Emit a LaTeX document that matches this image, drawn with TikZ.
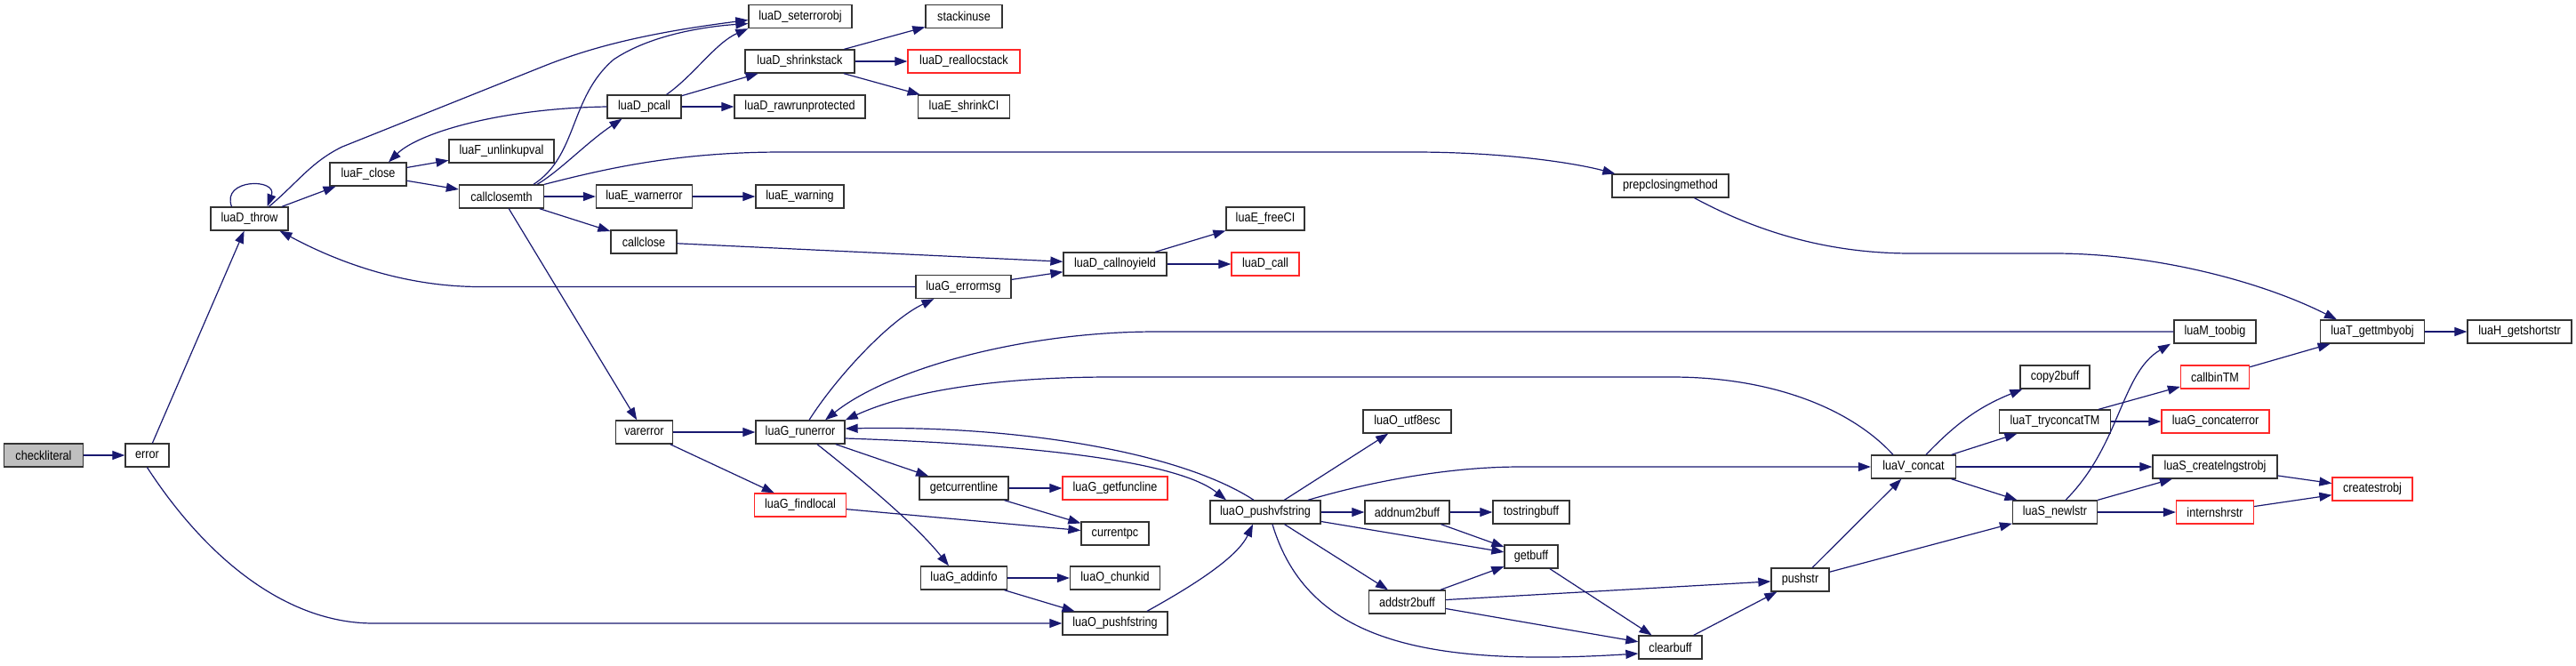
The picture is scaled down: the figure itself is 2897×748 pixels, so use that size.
\documentclass[tikz,border=0pt]{standalone}
\usepackage{fontspec}
\setmainfont{Liberation Sans}[FakeStretch=0.87]
\usepackage{tikz}
\usetikzlibrary{arrows.meta}
\definecolor{edgeblue}{RGB}{25,25,112}
\definecolor{boxred}{RGB}{255,40,40}

\begin{document}
\begin{tikzpicture}[
        x=1pt, y=-1pt,
        fn/.style={rectangle, draw=black!80, line width=1.3pt, fill=white, minimum height=26pt, inner sep=0pt, font=\fontsize{14.5}{16}\selectfont},
        fnext/.style={fn, draw=boxred},
        fnroot/.style={fn, fill=black!25},
        callarrow/.style={-{Triangle[length=14pt,width=10pt]}, line width=1.2pt, draw=edgeblue}
    ]
    \useasboundingbox (0,0) rectangle (2897,748);
    \node[fnroot, minimum width=89pt] (checkliteral) at (49,512) {checkliteral};
    \node[fn, minimum width=49pt] (error) at (165.5,512) {error};
    \node[fn, minimum width=87pt] (luaDthrow) at (280.5,246) {luaD\_throw};
    \node[fn, minimum width=86pt] (luaFclose) at (414,196) {luaF\_close};
    \node[fn, minimum width=118pt] (luaFunlinkupval) at (564,170) {luaF\_unlinkupval};
    \node[fn, minimum width=95pt] (callclosemth) at (564,221) {callclosemth};
    \node[fn, minimum width=116pt] (luaDseterrorobj) at (900,18.5) {luaD\_seterrorobj};
    \node[fn, minimum width=86pt] (stackinuse) at (1084,18.5) {stackinuse};
    \node[fn, minimum width=123pt] (luaDshrinkstack) at (899.5,69) {luaD\_shrinkstack};
    \node[fnext, minimum width=126pt] (luaDreallocstack) at (1084,69) {luaD\_reallocstack};
    \node[fn, minimum width=83pt] (luaDpcall) at (724.5,120) {luaD\_pcall};
    \node[fn, minimum width=147pt] (luaDrawrunprotected) at (899.5,120) {luaD\_rawrunprotected};
    \node[fn, minimum width=103pt] (luaEshrinkCI) at (1084,120) {luaE\_shrinkCI};
    \node[fn, minimum width=108pt] (luaEwarnerror) at (724.5,221) {luaE\_warnerror};
    \node[fn, minimum width=99pt] (luaEwarning) at (899.5,221) {luaE\_warning};
    \node[fn, minimum width=74pt] (callclose) at (724,272) {callclose};
    \node[fn, minimum width=116pt] (luaDcallnoyield) at (1254,297) {luaD\_callnoyield};
    \node[fn, minimum width=88pt] (luaEfreeCI) at (1423,246) {luaE\_freeCI};
    \node[fnext, minimum width=76pt] (luaDcall) at (1423,297) {luaD\_call};
    \node[fn, minimum width=107pt] (luaGerrormsg) at (1083.5,322.5) {luaG\_errormsg};
    \node[fn, minimum width=131pt] (prepclosingmethod) at (1878.5,209) {prepclosingmethod};
    \node[fn, minimum width=92pt] (luaMtoobig) at (2491,373) {luaM\_toobig};
    \node[fn, minimum width=117pt] (luaTgettmbyobj) at (2668,373) {luaT\_gettmbyobj};
    \node[fn, minimum width=117pt] (luaHgetshortstr) at (2833.5,373) {luaH\_getshortstr};
    \node[fn, minimum width=64pt] (varerror) at (724.5,486) {varerror};
    \node[fn, minimum width=100pt] (luaGrunerror) at (900,486) {luaG\_runerror};
    \node[fnext, minimum width=103pt] (luaGfindlocal) at (900,568) {luaG\_findlocal};
    \node[fn, minimum width=100pt] (getcurrentline) at (1084,549) {getcurrentline};
    \node[fnext, minimum width=118pt] (luaGgetfuncline) at (1254,549) {luaG\_getfuncline};
    \node[fn, minimum width=76pt] (currentpc) at (1254,600) {currentpc};
    \node[fn, minimum width=97pt] (luaGaddinfo) at (1084,650) {luaG\_addinfo};
    \node[fn, minimum width=101pt] (luaOchunkid) at (1254,650) {luaO\_chunkid};
    \node[fn, minimum width=118pt] (luaOpushfstring) at (1254,701) {luaO\_pushfstring};
    \node[fn, minimum width=124pt] (luaOpushvfstring) at (1423,576) {luaO\_pushvfstring};
    \node[fn, minimum width=99pt] (luaOutf8esc) at (1582.5,474) {luaO\_utf8esc};
    \node[fn, minimum width=95pt] (addnum2buff) at (1582.5,576) {addnum2buff};
    \node[fn, minimum width=86pt] (tostringbuff) at (1722,576) {tostringbuff};
    \node[fn, minimum width=60pt] (getbuff) at (1722,626) {getbuff};
    \node[fn, minimum width=86pt] (addstr2buff) at (1582.5,677) {addstr2buff};
    \node[fn, minimum width=71pt] (clearbuff) at (1878.5,728) {clearbuff};
    \node[fn, minimum width=65pt] (pushstr) at (2024.5,652) {pushstr};
    \node[fn, minimum width=95pt] (luaVconcat) at (2152,525) {luaV\_concat};
    \node[fn, minimum width=78pt] (copy2buff) at (2311,424) {copy2buff};
    \node[fn, minimum width=125pt] (luaTtryconcatTM) at (2311,474) {luaT\_tryconcatTM};
    \node[fnext, minimum width=77pt] (callbinTM) at (2491,424) {callbinTM};
    \node[fnext, minimum width=121pt] (luaGconcaterror) at (2491.5,474) {luaG\_concaterror};
    \node[fn, minimum width=140pt] (luaScreatelngstrobj) at (2491,525) {luaS\_createlngstrobj};
    \node[fnext, minimum width=90pt] (createstrobj) at (2668,550) {createstrobj};
    \node[fn, minimum width=95pt] (luaSnewlstr) at (2311,576) {luaS\_newlstr};
    \node[fnext, minimum width=87pt] (internshrstr) at (2491,576) {internshrstr};

    \draw[callarrow] (checkliteral) -- (error);
    \draw[callarrow] (error) -- (luaDthrow);
    \draw[callarrow] (error.south) .. controls (230,625) and (320,701) .. (420,701) -- (luaOpushfstring.west);
    \draw[callarrow] ([xshift=-20pt]luaDthrow.north) .. controls +(-12,-32) and +(12,-32) .. ([xshift=20pt]luaDthrow.north);
    \draw[callarrow] (luaDthrow) -- (luaFclose);
    \draw[callarrow] ([xshift=22pt]luaDthrow.north) .. controls (335,205) and (350,182) .. (385,165) -- (610,75) .. controls (660,55) and (720,38) .. ([yshift=-4pt]luaDseterrorobj.west);
    \draw[callarrow] (luaFclose) -- (luaFunlinkupval);
    \draw[callarrow] (luaFclose) -- (callclosemth);
    \draw[callarrow] (luaDpcall.west) .. controls (560,122) and (470,150) .. ([xshift=23pt]luaFclose.north);
    \draw[callarrow] ([xshift=25pt]luaDpcall.north) .. controls (780,85) and (805,48) .. (luaDseterrorobj.south west);
    \draw[callarrow] (luaDpcall) -- (luaDshrinkstack);
    \draw[callarrow] (luaDpcall) -- (luaDrawrunprotected);
    \draw[callarrow] ([xshift=36pt]callclosemth.north) .. controls (650,175) and (640,110) .. (690,67) .. controls (730,40) and (790,30) .. ([yshift=-8pt]luaDseterrorobj.west);
    \draw[callarrow] ([xshift=40pt]callclosemth.north) .. controls (630,192) and (660,160) .. ([xshift=-25pt]luaDpcall.south);
    \draw[callarrow] (callclosemth) -- (luaEwarnerror);
    \draw[callarrow] (callclosemth) -- (callclose);
    \draw[callarrow] (callclosemth.north east) .. controls (680,190) and (760,171) .. (880,171) -- (1590,171) .. controls (1690,171) and (1770,183) .. ([xshift=4pt]prepclosingmethod.north west);
    \draw[callarrow] (callclosemth) -- (varerror);
    \draw[callarrow] (luaDshrinkstack) -- (stackinuse);
    \draw[callarrow] (luaDshrinkstack) -- (luaDreallocstack);
    \draw[callarrow] (luaDshrinkstack) -- (luaEshrinkCI);
    \draw[callarrow] (luaEwarnerror) -- (luaEwarning);
    \draw[callarrow] (callclose) -- (luaDcallnoyield);
    \draw[callarrow] (luaGerrormsg) -- (luaDcallnoyield);
    \draw[callarrow] (luaGerrormsg.west) -- (540,322.5) .. controls (455,322.5) and (380,295) .. ([xshift=34pt]luaDthrow.south);
    \draw[callarrow] (luaDcallnoyield) -- (luaEfreeCI);
    \draw[callarrow] (luaDcallnoyield) -- (luaDcall);
    \draw[callarrow] ([xshift=27pt]prepclosingmethod.south) .. controls (1990,268) and (2070,285) .. (2150,285) -- (2310,285) .. controls (2420,285) and (2540,315) .. ([xshift=-40pt]luaTgettmbyobj.north);
    \draw[callarrow] (luaTgettmbyobj) -- (luaHgetshortstr);
    \draw[callarrow] (varerror) -- (luaGrunerror);
    \draw[callarrow] (varerror) -- (luaGfindlocal);
    \draw[callarrow] ([xshift=10pt]luaGrunerror.north) .. controls (940,425) and (1000,360) .. ([xshift=-33pt]luaGerrormsg.south);
    \draw[callarrow] (luaGrunerror) -- (getcurrentline);
    \draw[callarrow] ([xshift=19pt]luaGrunerror.south) .. controls (970,540) and (1030,590) .. ([xshift=-17pt]luaGaddinfo.north);
    \draw[callarrow] ([yshift=-7pt]luaGrunerror.east) .. controls (1130,499) and (1320,515) .. ([xshift=-44pt]luaOpushvfstring.north);
    \draw[callarrow] (luaMtoobig.west) -- (1300,373) .. controls (1150,373) and (1000,415) .. ([xshift=28pt]luaGrunerror.north);
    \draw[callarrow] ([xshift=-23pt]luaVconcat.north) .. controls (2080,458) and (1990,424) .. (1880,424) -- (1250,424) .. controls (1100,424) and (1010,445) .. (luaGrunerror.north east);
    \draw[callarrow] ([xshift=-13pt]luaOpushvfstring.north) .. controls (1330,510) and (1150,478) .. ([yshift=4pt]luaGrunerror.east);
    \draw[callarrow] (getcurrentline) -- (luaGgetfuncline);
    \draw[callarrow] (getcurrentline) -- (currentpc);
    \draw[callarrow] (luaGfindlocal) -- (currentpc);
    \draw[callarrow] (luaGaddinfo) -- (luaOchunkid);
    \draw[callarrow] (luaGaddinfo) -- (luaOpushfstring);
    \draw[callarrow] ([xshift=36pt]luaOpushfstring.north) .. controls (1330,665) and (1390,630) .. ([xshift=-14pt]luaOpushvfstring.south);
    \draw[callarrow] (luaOpushvfstring) -- (luaOutf8esc);
    \draw[callarrow] (luaOpushvfstring) -- (addnum2buff);
    \draw[callarrow] (luaOpushvfstring) -- (getbuff);
    \draw[callarrow] (luaOpushvfstring) -- (addstr2buff);
    \draw[callarrow] ([xshift=8pt]luaOpushvfstring.south) .. controls (1470,720) and (1600,750) .. ([yshift=-7pt]clearbuff.west);
    \draw[callarrow] ([xshift=48pt]luaOpushvfstring.north) .. controls (1530,545) and (1620,525) .. (1710,525) -- (luaVconcat.west);
    \draw[callarrow] (addnum2buff) -- (tostringbuff);
    \draw[callarrow] (addnum2buff) -- (getbuff);
    \draw[callarrow] (addstr2buff) -- (getbuff);
    \draw[callarrow] (addstr2buff) -- (pushstr);
    \draw[callarrow] (addstr2buff) -- (clearbuff);
    \draw[callarrow] (getbuff) -- (clearbuff);
    \draw[callarrow] (clearbuff) -- (pushstr);
    \draw[callarrow] (pushstr) -- (luaVconcat);
    \draw[callarrow] (pushstr) -- (luaSnewlstr);
    \draw[callarrow] (luaVconcat) to[bend left=12] (copy2buff);
    \draw[callarrow] (luaVconcat) -- (luaTtryconcatTM);
    \draw[callarrow] (luaVconcat) -- (luaScreatelngstrobj);
    \draw[callarrow] (luaVconcat) -- (luaSnewlstr);
    \draw[callarrow] (luaTtryconcatTM) -- (callbinTM);
    \draw[callarrow] (luaTtryconcatTM) -- (luaGconcaterror);
    \draw[callarrow] (callbinTM) -- (luaTgettmbyobj);
    \draw[callarrow] ([xshift=12pt]luaSnewlstr.north) .. controls (2385,500) and (2385,420) .. ([xshift=-50pt]luaMtoobig.south);
    \draw[callarrow] (luaSnewlstr) -- (luaScreatelngstrobj);
    \draw[callarrow] (luaSnewlstr) -- (internshrstr);
    \draw[callarrow] (luaScreatelngstrobj) -- (createstrobj);
    \draw[callarrow] (internshrstr) -- (createstrobj);
\end{tikzpicture}
\end{document}
